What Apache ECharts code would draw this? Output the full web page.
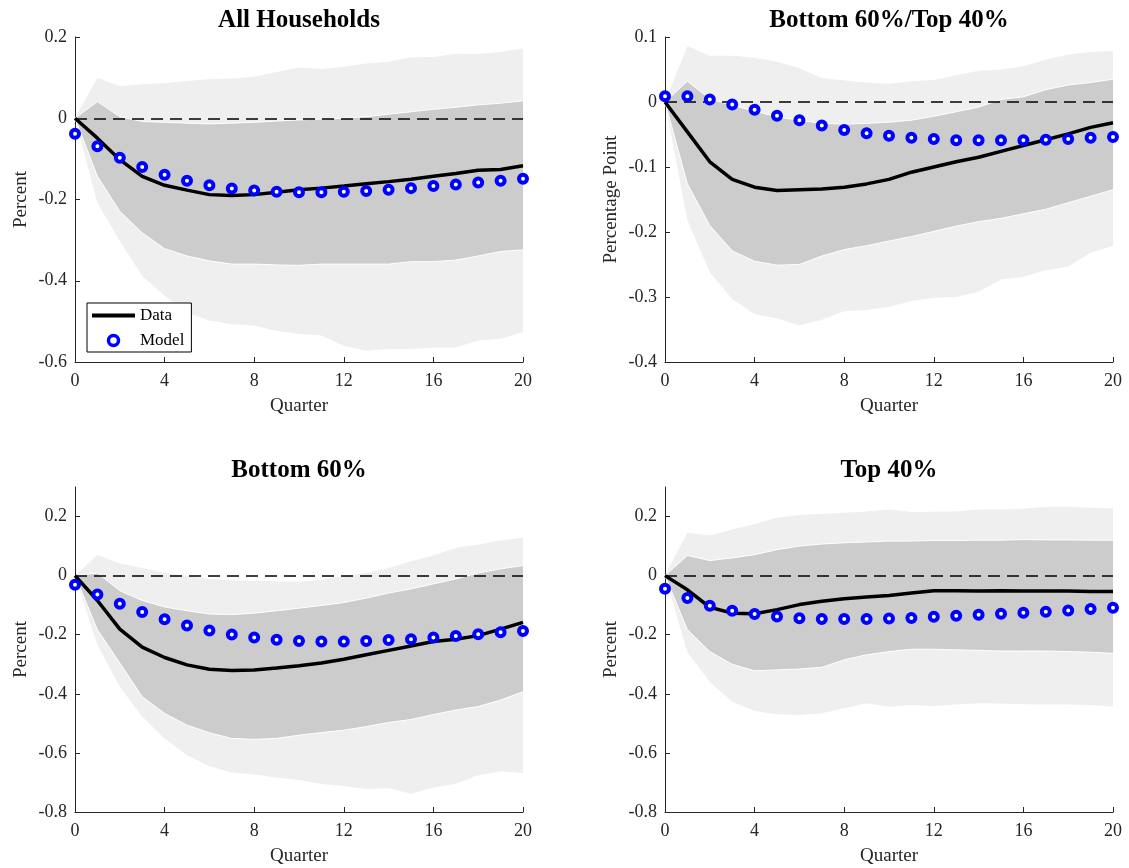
<!DOCTYPE html>
<html>
<head>
<meta charset="utf-8">
<script src="https://cdn.jsdelivr.net/npm/echarts@6/dist/echarts.min.js"></script>
<style>html,body{margin:0;padding:0;background:#fff;}#c{width:1129px;height:868px;}</style>
</head>
<body>
<div id="c"></div>
<script>
// ---------- data ----------
var quarters = [0,1,2,3,4,5,6,7,8,9,10,11,12,13,14,15,16,17,18,19,20];
var xTickEvery = 4;

var titles = ['All Households','Bottom 60%/Top 40%','Bottom 60%','Top 40%'];
var yNames = ['Percent','Percentage Point','Percent','Percent'];

var yTicks1 = [-0.6,-0.4,-0.2,0,0.2];
var yTicks2 = [-0.4,-0.3,-0.2,-0.1,0,0.1];
var yTicks3 = [-0.8,-0.6,-0.4,-0.2,0,0.2];
var yTicks4 = [-0.8,-0.6,-0.4,-0.2,0,0.2];

// All Households
var p1Data    = [0,-0.049,-0.102,-0.143,-0.165,-0.177,-0.188,-0.190,-0.188,-0.182,-0.176,-0.172,-0.167,-0.161,-0.156,-0.150,-0.143,-0.136,-0.128,-0.126,-0.117];
var p1Model   = [-0.038,-0.069,-0.097,-0.120,-0.139,-0.154,-0.165,-0.173,-0.178,-0.181,-0.182,-0.182,-0.181,-0.179,-0.176,-0.172,-0.167,-0.163,-0.158,-0.154,-0.149];
var p1InnerUp = [0,0.041,0.004,-0.008,-0.010,-0.012,-0.014,-0.012,-0.010,-0.007,-0.004,-0.002,0,0.004,0.010,0.016,0.022,0.027,0.033,0.037,0.043];
var p1InnerLo = [0,-0.143,-0.229,-0.282,-0.321,-0.339,-0.351,-0.359,-0.359,-0.361,-0.362,-0.359,-0.359,-0.359,-0.359,-0.353,-0.353,-0.349,-0.339,-0.328,-0.324];
var p1OuterUp = [0,0.100,0.079,0.084,0.087,0.092,0.096,0.098,0.102,0.114,0.125,0.121,0.127,0.135,0.139,0.150,0.151,0.159,0.158,0.163,0.172];
var p1OuterLo = [0,-0.208,-0.302,-0.388,-0.437,-0.478,-0.498,-0.507,-0.511,-0.523,-0.531,-0.535,-0.560,-0.572,-0.568,-0.568,-0.564,-0.564,-0.547,-0.543,-0.527];

// Bottom 60% / Top 40%
var p2Data    = [0,-0.046,-0.092,-0.119,-0.131,-0.136,-0.135,-0.134,-0.131,-0.126,-0.119,-0.108,-0.100,-0.092,-0.085,-0.076,-0.067,-0.058,-0.049,-0.039,-0.032];
var p2Model   = [0.009,0.009,0.004,-0.004,-0.012,-0.021,-0.028,-0.036,-0.043,-0.048,-0.052,-0.055,-0.057,-0.059,-0.059,-0.059,-0.059,-0.058,-0.057,-0.055,-0.054];
var p2InnerUp = [0,0.032,0.005,-0.005,-0.014,-0.023,-0.028,-0.033,-0.034,-0.033,-0.031,-0.028,-0.022,-0.015,-0.008,0.004,0.008,0.019,0.026,0.030,0.035];
var p2InnerLo = [0,-0.126,-0.190,-0.229,-0.245,-0.251,-0.250,-0.237,-0.227,-0.221,-0.214,-0.207,-0.199,-0.191,-0.184,-0.179,-0.172,-0.165,-0.155,-0.145,-0.135];
var p2OuterUp = [0,0.086,0.071,0.071,0.068,0.062,0.052,0.037,0.033,0.030,0.028,0.032,0.034,0.041,0.048,0.050,0.055,0.065,0.073,0.077,0.079];
var p2OuterLo = [0,-0.182,-0.262,-0.303,-0.326,-0.333,-0.344,-0.335,-0.322,-0.320,-0.315,-0.306,-0.301,-0.300,-0.292,-0.273,-0.269,-0.259,-0.253,-0.232,-0.221];

// Bottom 60%
var p3Data    = [0,-0.084,-0.181,-0.242,-0.277,-0.302,-0.317,-0.321,-0.319,-0.313,-0.305,-0.296,-0.283,-0.268,-0.253,-0.238,-0.223,-0.215,-0.203,-0.181,-0.158];
var p3Model   = [-0.031,-0.064,-0.095,-0.123,-0.148,-0.169,-0.186,-0.199,-0.209,-0.217,-0.221,-0.223,-0.223,-0.221,-0.218,-0.215,-0.209,-0.204,-0.198,-0.192,-0.187];
var p3InnerUp = [0,0.009,-0.051,-0.084,-0.106,-0.119,-0.130,-0.132,-0.127,-0.119,-0.110,-0.101,-0.091,-0.076,-0.059,-0.045,-0.028,-0.011,0.009,0.023,0.034];
var p3InnerLo = [0,-0.183,-0.296,-0.410,-0.466,-0.506,-0.532,-0.551,-0.554,-0.551,-0.540,-0.531,-0.523,-0.511,-0.497,-0.487,-0.470,-0.455,-0.443,-0.421,-0.393];
var p3OuterUp = [0,0.071,0.041,0.026,0.009,-0.002,-0.011,-0.016,-0.017,-0.019,-0.021,-0.014,-0.002,0.009,0.026,0.049,0.068,0.094,0.105,0.119,0.128];
var p3OuterLo = [0,-0.234,-0.376,-0.477,-0.551,-0.608,-0.645,-0.666,-0.673,-0.683,-0.692,-0.705,-0.712,-0.722,-0.720,-0.738,-0.717,-0.704,-0.676,-0.662,-0.668];

// Top 40%
var p4Data    = [0,-0.048,-0.107,-0.127,-0.129,-0.115,-0.098,-0.087,-0.078,-0.072,-0.067,-0.059,-0.051,-0.051,-0.052,-0.051,-0.052,-0.052,-0.052,-0.054,-0.054];
var p4Model   = [-0.044,-0.076,-0.102,-0.119,-0.130,-0.138,-0.144,-0.147,-0.147,-0.147,-0.145,-0.143,-0.139,-0.136,-0.132,-0.129,-0.126,-0.122,-0.118,-0.113,-0.109];
var p4InnerUp = [0,0.068,0.051,0.060,0.071,0.088,0.100,0.107,0.111,0.114,0.117,0.117,0.119,0.119,0.120,0.120,0.122,0.121,0.121,0.120,0.120];
var p4InnerLo = [0,-0.183,-0.257,-0.300,-0.322,-0.319,-0.316,-0.310,-0.285,-0.268,-0.257,-0.249,-0.249,-0.251,-0.253,-0.255,-0.255,-0.255,-0.257,-0.259,-0.263];
var p4OuterUp = [0,0.145,0.136,0.156,0.175,0.196,0.205,0.209,0.213,0.217,0.224,0.215,0.216,0.217,0.224,0.224,0.226,0.233,0.233,0.230,0.227];
var p4OuterLo = [0,-0.259,-0.359,-0.427,-0.458,-0.469,-0.472,-0.466,-0.449,-0.432,-0.444,-0.438,-0.441,-0.436,-0.432,-0.433,-0.435,-0.436,-0.436,-0.438,-0.444];

// ---------- build ----------
var panels = [
  {data:p1Data, model:p1Model, iu:p1InnerUp, il:p1InnerLo, ou:p1OuterUp, ol:p1OuterLo, yMin:-0.6, yMax:0.2, ticks:yTicks1},
  {data:p2Data, model:p2Model, iu:p2InnerUp, il:p2InnerLo, ou:p2OuterUp, ol:p2OuterLo, yMin:-0.4, yMax:0.1, ticks:yTicks2},
  {data:p3Data, model:p3Model, iu:p3InnerUp, il:p3InnerLo, ou:p3OuterUp, ol:p3OuterLo, yMin:-0.8, yMax:0.3, ticks:yTicks3},
  {data:p4Data, model:p4Model, iu:p4InnerUp, il:p4InnerLo, ou:p4OuterUp, ol:p4OuterLo, yMin:-0.8, yMax:0.3, ticks:yTicks4}
];

var SERIF = '"Liberation Serif","Times New Roman",serif';
var gridPos = [
  {left:75, top:37, width:448, height:325},
  {left:665, top:37, width:448, height:325},
  {left:75, top:487, width:448, height:325},
  {left:665, top:487, width:448, height:325}
];
var axisColor = '#262626';

function diff(a,b){ return a.map(function(v,i){ return +(v - b[i]).toFixed(4); }); }
function showTick(idx){ return idx % xTickEvery === 0; }

var grids = [], xAxes = [], yAxes = [], series = [], graphics = [];

panels.forEach(function(p, i){
  grids.push(gridPos[i]);
  xAxes.push({
    type:'category', gridIndex:i, data:quarters, boundaryGap:false,
    name:'Quarter', nameLocation:'middle', nameGap:35,
    nameTextStyle:{fontFamily:SERIF, fontSize:19, color:axisColor},
    axisLine:{show:true, onZero:false, lineStyle:{color:axisColor, width:1}},
    axisTick:{show:true, inside:true, length:5, interval:showTick, lineStyle:{color:axisColor}},
    axisLabel:{fontFamily:SERIF, fontSize:18, color:axisColor, margin:10, interval:showTick},
    splitLine:{show:false}
  });
  yAxes.push({
    type:'value', gridIndex:i, min:p.yMin, max:p.yMax,
    name:yNames[i], nameLocation:'middle', nameGap:44,
    nameTextStyle:{fontFamily:SERIF, fontSize:19, color:axisColor},
    axisLine:{show:true, onZero:false, lineStyle:{color:axisColor, width:1}},
    axisTick:{show:true, inside:true, length:5, lineStyle:{color:axisColor}, customValues:p.ticks},
    axisLabel:{fontFamily:SERIF, fontSize:18, color:axisColor, margin:8, customValues:p.ticks,
      formatter:function(v){ return String(+(+v).toFixed(2)); }},
    splitLine:{show:false}
  });
  var base = {type:'line', xAxisIndex:i, yAxisIndex:i, symbol:'none', showSymbol:false, silent:true, smooth:false, animation:false};
  series.push(Object.assign({}, base, {z:1, stack:'outer'+i, stackStrategy:'all', data:p.ol.slice(), lineStyle:{width:0, opacity:0}}));
  series.push(Object.assign({}, base, {z:1, stack:'outer'+i, stackStrategy:'all', data:diff(p.ou, p.ol), lineStyle:{width:0, opacity:0}, areaStyle:{color:'#efefef', opacity:1}}));
  series.push(Object.assign({}, base, {z:2, stack:'inner'+i, stackStrategy:'all', data:p.il.slice(), lineStyle:{width:1, color:'#ffffff'}}));
  series.push(Object.assign({}, base, {z:2, stack:'inner'+i, stackStrategy:'all', data:diff(p.iu, p.il), lineStyle:{width:1, color:'#ffffff'}, areaStyle:{color:'#cccccc', opacity:1}}));
  series.push(Object.assign({}, base, {
    z:4, name:'Data', data:p.data.slice(), lineStyle:{color:'#000', width:3.5}, itemStyle:{color:'#000'},
    markLine:{silent:true, symbol:['none','none'], label:{show:false}, animation:false,
      lineStyle:{color:'#000', type:[12,7], width:1.5}, data:[{yAxis:0}]}
  }));
  series.push({
    z:10, zlevel:0,
    name:'Model', type:'scatter', xAxisIndex:i, yAxisIndex:i, data:p.model.slice(), clip:false,
    symbol:'circle', symbolSize:8, silent:true, animation:false,
    itemStyle:{color:'#ffffff', borderColor:'#0000ff', borderWidth:4, opacity:1}
  });
  var g = gridPos[i];
  graphics.push({type:'text', x:g.left + g.width/2, y:g.top - 16, silent:true,
    style:{text:titles[i], font:'bold 25px ' + SERIF, textAlign:'center', textVerticalAlign:'middle', fill:'#000'}});
});

var chart = echarts.init(document.getElementById('c'), null, {renderer:'canvas'});
chart.setOption({
  backgroundColor:'#ffffff',
  animation:false,
  grid:grids, xAxis:xAxes, yAxis:yAxes, series:series,
  graphic:graphics,
  legend:{
    z:20,
    data:[
      {name:'Data', icon:'path://M0,0 L43,0 L43,4 L0,4 Z', itemStyle:{color:'#000'}},
      {name:'Model', icon:'circle', itemStyle:{color:'#ffffff', borderColor:'#0000ff', borderWidth:3.5}}
    ],
    left:87, top:303, orient:'vertical',
    itemWidth:43, itemHeight:10, itemGap:8,
    padding:[4,7,3,5], backgroundColor:'#ffffff', borderColor:'#000', borderWidth:1,
    textStyle:{fontFamily:SERIF, fontSize:17, color:'#000'},
    selectedMode:false
  }
});
</script>
</body>
</html>
